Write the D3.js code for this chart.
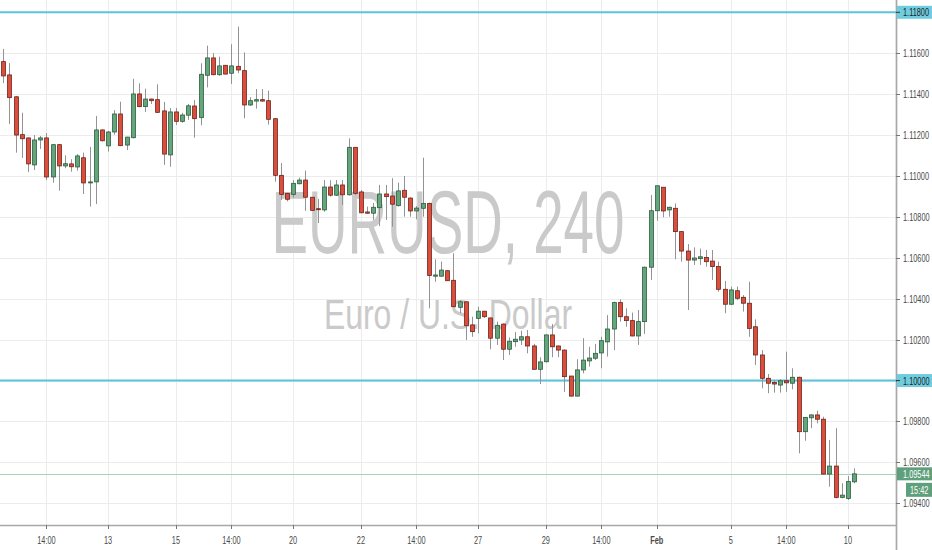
<!DOCTYPE html>
<html>
<head>
<meta charset="utf-8">
<script src="https://cdn.jsdelivr.net/npm/d3@7"></script>
<style>
  body { margin: 0; background: #fff; }
  svg { display: block; }
</style>
</head>
<body>
<div id="container"></div>
<script>
let w = 932;
let h = 550;
let plotW = 896;
let plotH = 525;

// EURUSD 4h candles
let opens = [1.11559,1.11494,1.11387,1.11202,1.11186,1.11054,1.11176,1.11186,1.10995,1.11153,
  1.11049,1.11059,1.11044,1.11089,1.10966,1.10971,1.11225,1.11147,1.11215,1.11303,
  1.11151,1.11187,1.11401,1.11339,1.11376,1.11373,1.11318,1.11103,1.11313,1.11267,
  1.11297,1.11342,1.11285,1.11492,1.11577,1.11495,1.11541,1.11502,1.11536,1.11515,
  1.11347,1.11366,1.11373,1.11368,1.11280,1.11003,1.10915,1.10910,1.10962,1.10980,
  1.10896,1.10840,1.10834,1.10946,1.10906,1.10956,1.10908,1.11140,1.10922,1.10824,
  1.10818,1.10845,1.10912,1.10902,1.10855,1.10930,1.10892,1.10829,1.10842,1.10866,
  1.10510,1.10510,1.10537,1.10490,1.10358,1.10385,1.10272,1.10304,1.10339,1.10306,
  1.10207,1.10276,1.10153,1.10190,1.10198,1.10214,1.10169,1.10055,1.10092,1.10223,
  1.10169,1.10149,1.10022,1.09924,1.10052,1.10096,1.10109,1.10135,1.10189,1.10252,
  1.10381,1.10312,1.10293,1.10218,1.10288,1.10554,1.10830,1.10945,1.10834,1.10842,
  1.10728,1.10633,1.10589,1.10596,1.10602,1.10584,1.10557,1.10446,1.10373,1.10439,
  1.10407,1.10378,1.10263,1.10125,1.10011,1.09991,1.09978,1.09999,1.09987,1.10016,
  1.09750,1.09818,1.09832,1.09811,1.09543,1.09582,1.09429,1.09424,1.09505];
let highs = [1.11621,1.11552,1.11390,1.11309,1.11188,1.11200,1.11195,1.11210,1.11155,1.11155,
  1.11101,1.11082,1.11107,1.11114,1.11142,1.11293,1.11228,1.11220,1.11322,1.11363,
  1.11191,1.11475,1.11453,1.11427,1.11378,1.11448,1.11362,1.11332,1.11332,1.11309,
  1.11352,1.11371,1.11551,1.11637,1.11600,1.11583,1.11542,1.11644,1.11730,1.11604,
  1.11385,1.11425,1.11425,1.11417,1.11282,1.11063,1.10918,1.10980,1.10992,1.11026,
  1.10897,1.10888,1.10980,1.10979,1.10980,1.10980,1.11184,1.11141,1.10931,1.10850,
  1.10868,1.10956,1.10956,1.10989,1.10967,1.11000,1.10896,1.10853,1.11089,1.10869,
  1.10593,1.10581,1.10539,1.10622,1.10393,1.10386,1.10312,1.10361,1.10340,1.10308,
  1.10288,1.10279,1.10211,1.10237,1.10244,1.10247,1.10179,1.10114,1.10225,1.10276,
  1.10171,1.10152,1.10022,1.10104,1.10207,1.10165,1.10179,1.10214,1.10320,1.10386,
  1.10397,1.10353,1.10332,1.10345,1.10557,1.10907,1.10953,1.10946,1.10850,1.10866,
  1.10729,1.10667,1.10651,1.10645,1.10638,1.10638,1.10581,1.10487,1.10459,1.10459,
  1.10418,1.10483,1.10299,1.10149,1.10032,1.10003,1.10006,1.10141,1.10060,1.10019,
  1.09821,1.09834,1.09853,1.09823,1.09710,1.09767,1.09498,1.09533,1.09571];
let lows = [1.11454,1.11254,1.11114,1.11088,1.11019,1.11029,1.11132,1.10980,1.10967,1.10928,
  1.11038,1.11021,1.11026,1.10912,1.10850,1.10863,1.11169,1.11119,1.11202,1.11146,
  1.11127,1.11184,1.11336,1.11313,1.11352,1.11308,1.11054,1.11045,1.11249,1.11260,
  1.11274,1.11187,1.11248,1.11433,1.11492,1.11489,1.11497,1.11450,1.11502,1.11282,
  1.11342,1.11329,1.11364,1.11251,1.10972,1.10883,1.10876,1.10894,1.10959,1.10830,
  1.10830,1.10770,1.10825,1.10899,1.10902,1.10858,1.10904,1.10906,1.10818,1.10816,
  1.10785,1.10755,1.10785,1.10752,1.10850,1.10801,1.10801,1.10788,1.10801,1.10353,
  1.10483,1.10508,1.10487,1.10358,1.10329,1.10198,1.10214,1.10231,1.10306,1.10153,
  1.10174,1.10100,1.10125,1.10165,1.10174,1.10133,1.10054,1.09983,1.10088,1.10114,
  1.10114,1.09945,1.09922,1.09922,1.10035,1.10068,1.10100,1.10060,1.10117,1.10149,
  1.10288,1.10263,1.10216,1.10174,1.10228,1.10492,1.10781,1.10798,1.10801,1.10593,
  1.10581,1.10345,1.10565,1.10565,1.10557,1.10492,1.10434,1.10329,1.10369,1.10393,
  1.10337,1.10214,1.10076,1.09962,1.09938,1.09941,1.09941,1.09945,1.09957,1.09644,
  1.09706,1.09767,1.09791,1.09540,1.09481,1.09424,1.09424,1.09416,1.09498];
let closes = [1.11489,1.11383,1.11200,1.11182,1.11059,1.11176,1.11186,1.10995,1.11153,1.11049,
  1.11060,1.11045,1.11098,1.10966,1.10971,1.11225,1.11172,1.11215,1.11303,1.11148,
  1.11190,1.11401,1.11339,1.11376,1.11368,1.11311,1.11107,1.11313,1.11267,1.11298,
  1.11343,1.11280,1.11497,1.11577,1.11495,1.11538,1.11498,1.11538,1.11518,1.11347,
  1.11368,1.11373,1.11366,1.11277,1.11003,1.10910,1.10886,1.10964,1.10980,1.10896,
  1.10832,1.10837,1.10946,1.10906,1.10956,1.10908,1.11140,1.10915,1.10820,1.10818,
  1.10847,1.10912,1.10899,1.10862,1.10927,1.10896,1.10829,1.10843,1.10866,1.10513,
  1.10516,1.10540,1.10488,1.10361,1.10385,1.10268,1.10239,1.10339,1.10312,1.10207,
  1.10270,1.10153,1.10192,1.10202,1.10214,1.10169,1.10055,1.10091,1.10223,1.10165,
  1.10149,1.10019,1.09924,1.10052,1.10100,1.10110,1.10133,1.10195,1.10252,1.10381,
  1.10312,1.10293,1.10218,1.10288,1.10554,1.10830,1.10952,1.10829,1.10847,1.10728,
  1.10633,1.10589,1.10599,1.10605,1.10581,1.10557,1.10446,1.10373,1.10443,1.10402,
  1.10378,1.10255,1.10125,1.10011,1.09987,1.09983,1.09999,1.09989,1.10016,1.09750,
  1.09820,1.09832,1.09811,1.09543,1.09582,1.09429,1.09440,1.09506,1.09544];

let priceTicks = [1.094,1.096,1.098,1.100,1.102,1.104,1.106,1.108,1.110,1.112,1.114,1.116,1.118];
let timeTickIndex = [7,17,28,37,47,58,67,77,88,97,106,118,127,137];
let timeTickLabels = ["14:00","13","15","14:00","20","22","14:00","27","29","14:00","Feb","5","14:00","10"];
let levels = [1.118, 1.100];
let lastPrice = 1.09544;
let countdown = "15:42";
let symbolText = "EURUSD, 240";
let descText = "Euro / U.S. Dollar";

let upFill = "#64a67c", upLine = "#2a5a3c";
let downFill = "#dc4e3b", downLine = "#6a2218";
let levelColor = "#5ac4d8";
let labelGreen = "#5fa07c";

let candles = opens.map(function(o, i) {
  return {i: i, o: o, h: highs[i], l: lows[i], c: closes[i]};
});

let viz = d3.select("#container")
  .append("svg")
    .attr("width", w)
    .attr("height", h)
    .style("background-color", "white")
;

let xScale = d3.scaleLinear().domain([0, candles.length - 1]).range([3.3, 854.1]);
let yScale = d3.scaleLinear().domain([1.094, 1.118]).range([503.3, 12.3]);

// grid
viz.append("g").selectAll("line").data(priceTicks).enter()
  .append("line")
    .attr("x1", 0).attr("x2", plotW)
    .attr("y1", d => Math.round(yScale(d)) + 0.5)
    .attr("y2", d => Math.round(yScale(d)) + 0.5)
    .attr("stroke", "#ececec")
;
viz.append("g").selectAll("line").data(timeTickIndex).enter()
  .append("line")
    .attr("x1", d => Math.round(xScale(d)) + 0.5)
    .attr("x2", d => Math.round(xScale(d)) + 0.5)
    .attr("y1", 0).attr("y2", plotH)
    .attr("stroke", "#ececec")
;

// watermark
viz.append("text")
  .text(symbolText)
  .attr("x", plotW / 2).attr("y", 253)
  .attr("text-anchor", "middle")
  .attr("font-family", "Liberation Sans, Arial, sans-serif")
  .attr("font-size", 89)
  .attr("textLength", 353)
  .attr("lengthAdjust", "spacingAndGlyphs")
  .attr("fill", "#cacaca")
;
viz.append("text")
  .text(descText)
  .attr("x", plotW / 2).attr("y", 329)
  .attr("text-anchor", "middle")
  .attr("font-family", "Liberation Sans, Arial, sans-serif")
  .attr("font-size", 43)
  .attr("textLength", 248)
  .attr("lengthAdjust", "spacingAndGlyphs")
  .attr("fill", "#cacaca")
;

// level lines
viz.append("g").selectAll("line").data(levels).enter()
  .append("line")
    .attr("x1", 0).attr("x2", plotW)
    .attr("y1", d => yScale(d)).attr("y2", d => yScale(d))
    .attr("stroke", levelColor)
    .attr("stroke-width", 2)
;

// last price line
viz.append("line")
  .attr("x1", 0).attr("x2", plotW)
  .attr("y1", Math.round(yScale(lastPrice)) + 0.5)
  .attr("y2", Math.round(yScale(lastPrice)) + 0.5)
  .attr("stroke", "#a8d3b6")
;

// candles
let candleGroups = viz.append("g").selectAll("g").data(candles).enter()
  .append("g")
;
candleGroups.append("line")
  .attr("x1", d => Math.round(xScale(d.i)) + 0.5)
  .attr("x2", d => Math.round(xScale(d.i)) + 0.5)
  .attr("y1", d => yScale(d.h))
  .attr("y2", d => yScale(d.l))
  .attr("stroke", "#939395")
;
candleGroups.append("rect")
  .attr("x", d => Math.round(xScale(d.i)) - 1.4)
  .attr("width", 3.8)
  .attr("y", d => yScale(Math.max(d.o, d.c)))
  .attr("height", d => Math.max(1, yScale(Math.min(d.o, d.c)) - yScale(Math.max(d.o, d.c))))
  .attr("fill", d => d.c >= d.o ? upFill : downFill)
  .attr("stroke", d => d.c >= d.o ? upLine : downLine)
  .attr("stroke-width", 0.8)
;

// axes
viz.append("rect").attr("x", plotW).attr("y", 0).attr("width", w - plotW).attr("height", h).attr("fill", "white");
viz.append("rect").attr("x", 0).attr("y", plotH).attr("width", plotW).attr("height", h - plotH).attr("fill", "white");

viz.append("line")
  .attr("x1", plotW + 0.5).attr("x2", plotW + 0.5)
  .attr("y1", 0).attr("y2", h)
  .attr("stroke", "#a8a8a8").attr("stroke-width", 1.7)
;
viz.append("line")
  .attr("x1", 0).attr("x2", plotW)
  .attr("y1", plotH + 0.5).attr("y2", plotH + 0.5)
  .attr("stroke", "#a8a8a8").attr("stroke-width", 1.7)
;

let priceAxis = viz.append("g");
priceAxis.selectAll("line").data(priceTicks).enter()
  .append("line")
    .attr("x1", plotW).attr("x2", plotW + 4)
    .attr("y1", d => Math.round(yScale(d)) + 0.5)
    .attr("y2", d => Math.round(yScale(d)) + 0.5)
    .attr("stroke", "#777")
;
priceAxis.selectAll("text").data(priceTicks).enter()
  .append("text")
    .text(d => d.toFixed(5))
    .attr("transform", d => "translate(903," + (yScale(d) + 4) + ") scale(0.64,1)")
    .attr("font-family", "Liberation Sans, Arial, sans-serif")
    .attr("font-size", 11.5)
    .attr("fill", "#4a4a4a")
;

// level price labels
let levelLabels = viz.append("g").selectAll("g").data(levels).enter().append("g");
levelLabels.append("rect")
  .attr("x", plotW + 1).attr("width", w - plotW - 1)
  .attr("y", d => yScale(d) - 6.5).attr("height", 13)
  .attr("fill", "#6fcde0")
;
levelLabels.append("line")
  .attr("x1", plotW).attr("x2", plotW + 4)
  .attr("y1", d => yScale(d)).attr("y2", d => yScale(d))
  .attr("stroke", "#333")
;
levelLabels.append("text")
  .text(d => d.toFixed(5))
  .attr("transform", d => "translate(903," + (yScale(d) + 4) + ") scale(0.64,1)")
  .attr("font-family", "Liberation Sans, Arial, sans-serif")
  .attr("font-size", 11.5)
  .attr("fill", "#1e1e1e")
;

// last price label and countdown
let ly = yScale(lastPrice);
viz.append("rect")
  .attr("x", plotW + 1).attr("width", w - plotW - 1)
  .attr("y", ly - 6.5).attr("height", 13)
  .attr("fill", labelGreen)
;
viz.append("text")
  .text(lastPrice.toFixed(5))
  .attr("transform", "translate(903," + (ly + 4) + ") scale(0.64,1)")
  .attr("font-family", "Liberation Sans, Arial, sans-serif")
  .attr("font-size", 11.5)
  .attr("fill", "white")
;
viz.append("rect")
  .attr("x", 906).attr("width", w - 906)
  .attr("y", ly + 9).attr("height", 14)
  .attr("fill", labelGreen)
;
viz.append("text")
  .text(countdown)
  .attr("transform", "translate(910," + (ly + 20) + ") scale(0.64,1)")
  .attr("font-family", "Liberation Sans, Arial, sans-serif")
  .attr("font-size", 11.5)
  .attr("fill", "white")
;

// time axis
let timeAxis = viz.append("g");
timeAxis.selectAll("line").data(timeTickIndex).enter()
  .append("line")
    .attr("x1", d => Math.round(xScale(d)) + 0.5)
    .attr("x2", d => Math.round(xScale(d)) + 0.5)
    .attr("y1", plotH).attr("y2", plotH + 4)
    .attr("stroke", "#777")
;
timeAxis.selectAll("text").data(timeTickIndex).enter()
  .append("text")
    .text((d, i) => timeTickLabels[i])
    .attr("transform", d => "translate(" + xScale(d) + ",544) scale(0.64,1)")
    .attr("text-anchor", "middle")
    .attr("font-family", "Liberation Sans, Arial, sans-serif")
    .attr("font-size", 11.5)
    .attr("font-weight", (d, i) => timeTickLabels[i] == "Feb" ? "bold" : "normal")
    .attr("fill", "#4a4a4a")
;
</script>
</body>
</html>
